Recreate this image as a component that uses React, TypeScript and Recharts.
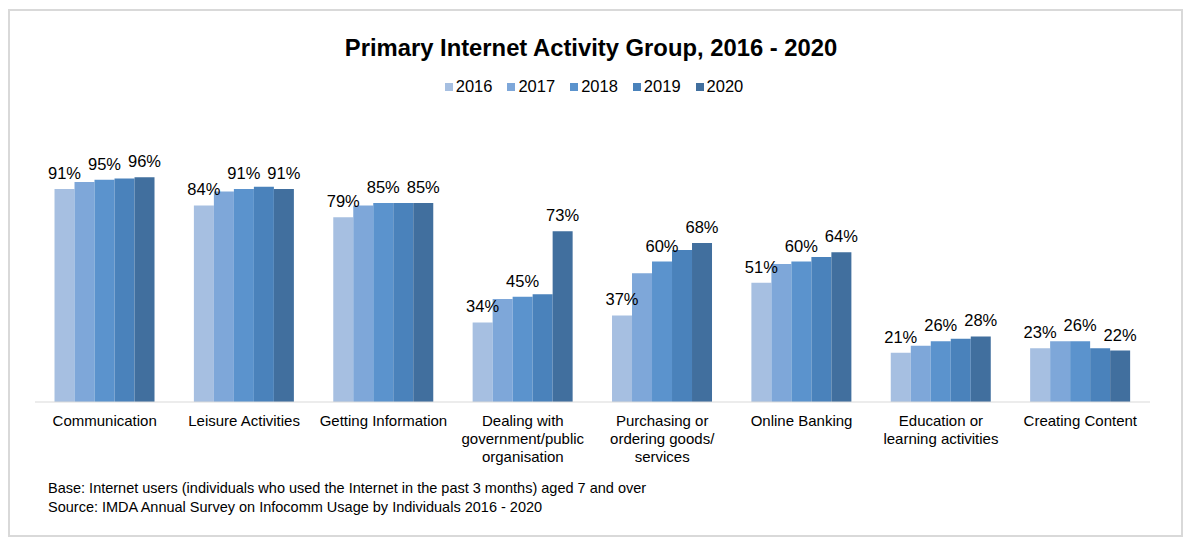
import React from 'react';
import { Bar, BarChart, LabelList, XAxis, YAxis } from 'recharts';

// Primary internet activity by year, Singapore IMDA survey 2016-2020.
// Only 2016, 2018 and 2020 carry value labels, as in the source chart.

const categories = [
  'Communication',
  'Leisure Activities',
  'Getting Information',
  'Dealing with\ngovernment/public\norganisation',
  'Purchasing or\nordering goods/\nservices',
  'Online Banking',
  'Education or\nlearning activities',
  'Creating Content',
];

const years = ['2016', '2017', '2018', '2019', '2020'];
const labelledYears = ['2016', '2018', '2020'];

const v2016 = [91, 84, 79, 34, 37, 51, 21, 23];
const v2017 = [94, 90, 84, 44, 55, 59, 24, 26];
const v2018 = [95, 91, 85, 45, 60, 60, 26, 26];
const v2019 = [95.5, 92, 85, 46, 65, 62, 27, 23];
const v2020 = [96, 91, 85, 73, 68, 64, 28, 22];

const colors = ['#a6bfe1', '#7ea7d9', '#5b93cd', '#4a82bb', '#416f9e'];

const FONT = '"Liberation Sans", Arial, sans-serif';

const data = categories.map((name, i) => ({
  name,
  '2016': v2016[i],
  '2017': v2017[i],
  '2018': v2018[i],
  '2019': v2019[i],
  '2020': v2020[i],
}));

function CategoryTick({ x, y, payload }: { x?: number; y?: number; payload?: { value: string } }) {
  const lines = String(payload?.value ?? '').split('\n');
  return (
    <text x={x} y={y} textAnchor="middle" fill="#000" fontSize={15} fontFamily={FONT}>
      {lines.map((line, i) => (
        <tspan key={i} x={x} dy={i === 0 ? 16 : 18}>
          {line}
        </tspan>
      ))}
    </text>
  );
}

export default function App() {
  return (
    <div
      style={{
        position: 'absolute',
        left: 0,
        top: 0,
        width: 1204,
        height: 547,
        background: '#fff',
        fontFamily: FONT,
      }}
    >
      <div
        style={{
          position: 'absolute',
          left: 8,
          top: 9,
          width: 1171,
          height: 524,
          border: '2px solid #d9d9d9',
        }}
      />
      <div
        style={{
          position: 'absolute',
          left: 0,
          top: 34,
          width: 1182,
          textAlign: 'center',
          fontSize: 23.8,
          fontWeight: 'bold',
          color: '#000',
        }}
      >
        Primary Internet Activity Group, 2016 - 2020
      </div>
      <div
        style={{
          position: 'absolute',
          left: 0,
          top: 77,
          width: 1188,
          display: 'flex',
          justifyContent: 'center',
          fontSize: 16.5,
          color: '#000',
        }}
      >
        {years.map((year, i) => (
          <div key={year} style={{ display: 'flex', alignItems: 'center', marginRight: i < years.length - 1 ? 15 : 0 }}>
            <span style={{ width: 8, height: 8, background: colors[i], marginRight: 3, display: 'inline-block' }} />
            <span>{year}</span>
          </div>
        ))}
      </div>
      <BarChart
        width={1204}
        height={547}
        data={data}
        margin={{ top: 168, right: 54, bottom: 85, left: 35 }}
        barCategoryGap="14%"
        barGap={0}
        style={{ position: 'absolute', left: 0, top: 0 }}
      >
        <XAxis
          dataKey="name"
          interval={0}
          tickLine={false}
          axisLine={{ stroke: '#d9d9d9' }}
          height={60}
          tick={<CategoryTick />}
        />
        <YAxis hide domain={[0, 100]} />
        {years.map((year, i) => (
          <Bar key={year} dataKey={year} fill={colors[i]} isAnimationActive={false}>
            {labelledYears.includes(year) && (
              <LabelList
                dataKey={year}
                position="top"
                offset={10}
                formatter={(v: number) => `${Math.round(v)}%`}
                style={{ fill: '#000', fontSize: 16.5, fontFamily: FONT }}
              />
            )}
          </Bar>
        ))}
      </BarChart>
      <div
        style={{
          position: 'absolute',
          left: 48,
          top: 479,
          fontSize: 14.5,
          lineHeight: '19px',
          color: '#000',
        }}
      >
        <div>Base: Internet users (individuals who used the Internet in the past 3 months) aged 7 and over</div>
        <div>Source: IMDA Annual Survey on Infocomm Usage by Individuals 2016 - 2020</div>
      </div>
    </div>
  );
}
